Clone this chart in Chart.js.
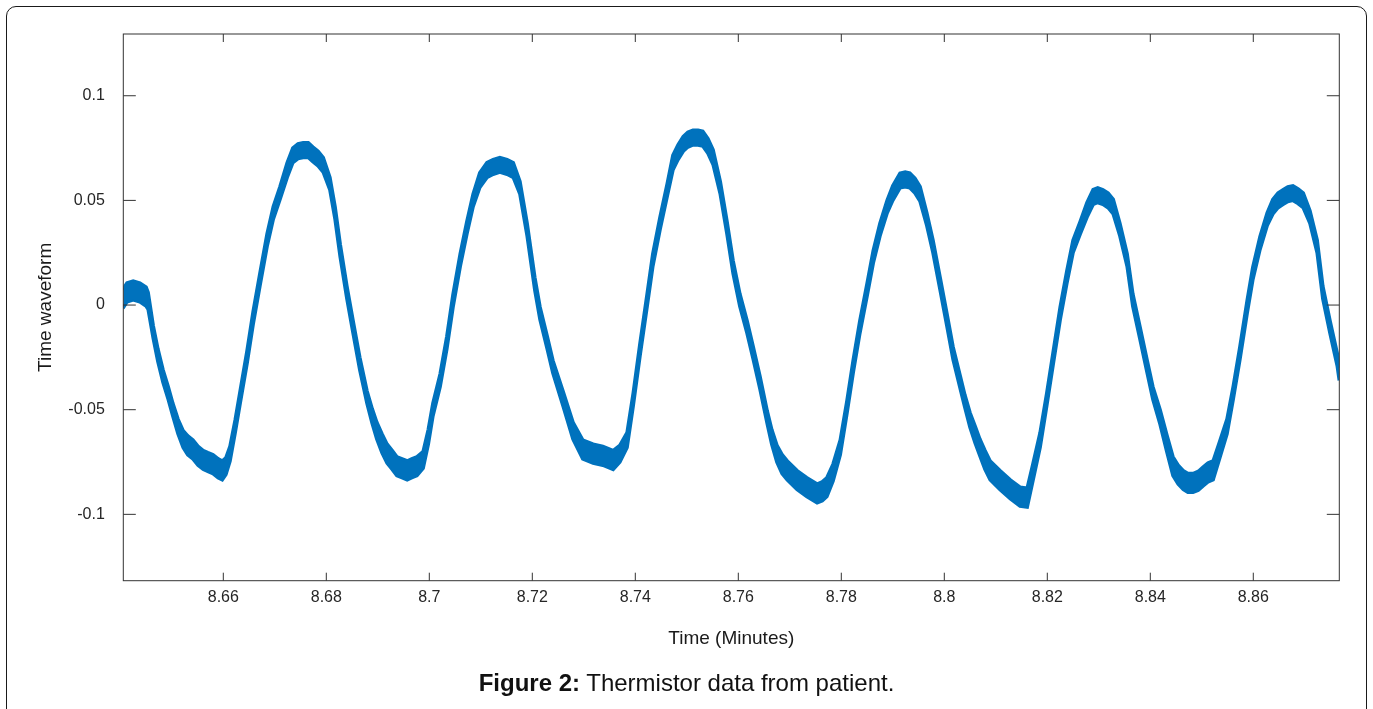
<!DOCTYPE html>
<html>
<head>
<meta charset="utf-8">
<script src="https://cdn.jsdelivr.net/npm/chart.js@4.4.1/dist/chart.umd.min.js"></script>
<style>
  html, body { margin: 0; padding: 0; background: #fff; width: 1373px; height: 709px; overflow: hidden; }
  #frame { position: absolute; left: 6px; top: 6px; width: 1361px; height: 760px; border: 1.5px solid #1a1a1a; border-radius: 10px; box-sizing: border-box; }
  #wrap { position: absolute; left: 0; top: 0; width: 1373px; height: 709px; }
  #caption { position: absolute; left: 0; top: 669px; width: 1373px; text-align: center; font-family: "Liberation Sans", Arial, sans-serif; font-size: 24px; line-height: 28px; color: #111; }
</style>
</head>
<body>
<div id="frame"></div>
<div id="wrap"><canvas id="c" width="1373" height="709"></canvas></div>
<div id="caption"><b>Figure 2:</b> Thermistor data from patient.</div>
<script>
// Time (minutes) of each sample
const times = [
8.6405, 8.6413, 8.6425, 8.6438, 8.6450, 8.6454, 8.6464, 8.6473, 8.6483, 8.6493,
8.6502, 8.6512, 8.6522, 8.6531, 8.6541, 8.6551, 8.6561, 8.6570, 8.6580, 8.6590,
8.6598, 8.6605, 8.6613, 8.6623, 8.6632, 8.6646, 8.6658, 8.6671, 8.6685, 8.6697,
8.6710, 8.6724, 8.6735, 8.6745, 8.6755, 8.6765, 8.6774, 8.6784, 8.6794, 8.6807,
8.6817, 8.6827, 8.6840, 8.6852, 8.6865, 8.6879, 8.6889, 8.6898, 8.6908, 8.6918,
8.6928, 8.6937, 8.6947, 8.6957, 8.6966, 8.6976, 8.6988, 8.6998, 8.7007, 8.7021,
8.7034, 8.7046, 8.7060, 8.7073, 8.7085, 8.7098, 8.7112, 8.7124, 8.7137, 8.7151,
8.7163, 8.7176, 8.7190, 8.7205, 8.7215, 8.7229, 8.7240, 8.7260, 8.7279, 8.7298,
8.7318, 8.7337, 8.7357, 8.7370, 8.7384, 8.7396, 8.7409, 8.7423, 8.7434, 8.7448,
8.7462, 8.7473, 8.7483, 8.7493, 8.7502, 8.7512, 8.7522, 8.7531, 8.7541, 8.7551,
8.7565, 8.7578, 8.7590, 8.7603, 8.7617, 8.7629, 8.7642, 8.7656, 8.7665, 8.7675,
8.7685, 8.7695, 8.7714, 8.7733, 8.7753, 8.7763, 8.7772, 8.7784, 8.7798, 8.7811,
8.7823, 8.7836, 8.7850, 8.7862, 8.7875, 8.7889, 8.7900, 8.7914, 8.7924, 8.7933,
8.7943, 8.7953, 8.7966, 8.7978, 8.7992, 8.8005, 8.8017, 8.8031, 8.8040, 8.8050,
8.8060, 8.8069, 8.8079, 8.8089, 8.8108, 8.8128, 8.8147, 8.8161, 8.8172, 8.8186,
8.8199, 8.8211, 8.8225, 8.8238, 8.8250, 8.8264, 8.8277, 8.8289, 8.8298, 8.8308,
8.8318, 8.8328, 8.8341, 8.8355, 8.8366, 8.8380, 8.8394, 8.8405, 8.8419, 8.8432,
8.8444, 8.8454, 8.8464, 8.8473, 8.8483, 8.8493, 8.8502, 8.8512, 8.8522, 8.8535,
8.8549, 8.8561, 8.8574, 8.8588, 8.8599, 8.8613, 8.8627, 8.8638, 8.8648, 8.8658,
8.8667, 8.8677, 8.8687, 8.8697, 8.8710, 8.8724, 8.8735, 8.8749, 8.8763, 8.8767
];

// Upper edge of the noisy waveform band
const upperEnv = [
0.0075, 0.0105, 0.0115, 0.0105, 0.0085, 0.006, -0.010, -0.021, -0.031, -0.039,
-0.047, -0.0545, -0.060, -0.0625, -0.0645, -0.0675, -0.0695, -0.0705, -0.0715, -0.0735,
-0.0745, -0.073, -0.0675, -0.055, -0.042, -0.022, -0.003, 0.015, 0.034, 0.047,
0.0565, 0.068, 0.075, 0.077, 0.0775, 0.0775, 0.0755, 0.0735, 0.0705, 0.061,
0.047, 0.029, 0.009, -0.0075, -0.025, -0.041, -0.0495, -0.056, -0.0615, -0.0665,
-0.0695, -0.0725, -0.0735, -0.0745, -0.0735, -0.0725, -0.070, -0.0595, -0.047, -0.033,
-0.015, 0.005, 0.0245, 0.040, 0.053, 0.0632, 0.068, 0.0695, 0.0705, 0.0695,
0.068, 0.059, 0.039, 0.013, -0.001, -0.015, -0.0265, -0.0415, -0.056, -0.0645,
-0.0665, -0.0675, -0.0695, -0.067, -0.061, -0.042, -0.0185, 0.0054, 0.0245, 0.042,
0.058, 0.0715, 0.0765, 0.0805, 0.0825, 0.0835, 0.0835, 0.083, 0.0795, 0.0742,
0.059, 0.040, 0.021, 0.0054, -0.0075, -0.020, -0.034, -0.0505, -0.0595, -0.067,
-0.0715, -0.0745, -0.0791, -0.0825, -0.0855, -0.0845, -0.0825, -0.076, -0.0645, -0.0457,
-0.0265, -0.0075, 0.0102, 0.026, 0.039, 0.050, 0.057, 0.063, 0.0635, 0.063,
0.0605, 0.0565, 0.044, 0.031, 0.013, -0.004, -0.020, -0.034, -0.043, -0.0515,
-0.058, -0.064, -0.0695, -0.0745, -0.0791, -0.0835, -0.087, -0.0875, -0.076, -0.061,
-0.042, -0.023, -0.001, 0.0164, 0.031, 0.040, 0.0489, 0.0551, 0.056, 0.0551,
0.0535, 0.0505, 0.039, 0.0245, 0.0054, -0.0104, -0.0265, -0.039, -0.050, -0.062,
-0.0725, -0.0765, -0.0791, -0.0805, -0.0805, -0.0795, -0.0775, -0.0755, -0.0745, -0.065,
-0.0545, -0.039, -0.020, 0.002, 0.018, 0.0326, 0.044, 0.0505, 0.0535, 0.0551,
0.0565, 0.057, 0.0555, 0.0535, 0.045, 0.031, 0.009, -0.0075, -0.023, -0.030
];

// Lower edge of the noisy waveform band
const lowerEnv = [
-0.0015, 0.0015, 0.0025, 0.0015, -0.0005, -0.002, -0.016, -0.027, -0.037, -0.045,
-0.053, -0.0615, -0.068, -0.0715, -0.0735, -0.0765, -0.0785, -0.0795, -0.0805, -0.0825,
-0.0835, -0.081, -0.0745, -0.061, -0.048, -0.028, -0.009, 0.009, 0.028, 0.041,
0.0505, 0.061, 0.068, 0.070, 0.0705, 0.0705, 0.0685, 0.0665, 0.0635, 0.055,
0.041, 0.023, 0.003, -0.0135, -0.031, -0.047, -0.0565, -0.064, -0.0705, -0.0755,
-0.0785, -0.0815, -0.0825, -0.0835, -0.0825, -0.0815, -0.078, -0.0665, -0.053, -0.039,
-0.021, -0.001, 0.0185, 0.034, 0.047, 0.0562, 0.061, 0.0625, 0.0635, 0.0625,
0.061, 0.053, 0.033, 0.007, -0.007, -0.021, -0.0325, -0.0485, -0.064, -0.0735,
-0.0755, -0.0765, -0.0785, -0.075, -0.068, -0.048, -0.0245, -0.0006, 0.0185, 0.036,
0.052, 0.0645, 0.0695, 0.0735, 0.0755, 0.0765, 0.0765, 0.076, 0.0725, 0.0672,
0.053, 0.034, 0.015, -0.0006, -0.0135, -0.026, -0.040, -0.0565, -0.0665, -0.075,
-0.0805, -0.0835, -0.0881, -0.0915, -0.0945, -0.0935, -0.0915, -0.084, -0.0715, -0.0517,
-0.0325, -0.0135, 0.0042, 0.020, 0.033, 0.044, 0.050, 0.056, 0.0565, 0.056,
0.0535, 0.0495, 0.038, 0.025, 0.007, -0.010, -0.026, -0.040, -0.049, -0.0585,
-0.066, -0.072, -0.0785, -0.0835, -0.0881, -0.0925, -0.096, -0.0965, -0.084, -0.068,
-0.048, -0.029, -0.007, 0.0104, 0.025, 0.034, 0.0419, 0.0481, 0.049, 0.0481,
0.0465, 0.0435, 0.033, 0.0185, -0.0006, -0.0164, -0.0325, -0.045, -0.057, -0.070,
-0.0815, -0.0855, -0.0881, -0.0895, -0.0895, -0.0885, -0.0865, -0.0845, -0.0835, -0.073,
-0.0615, -0.045, -0.026, -0.004, 0.012, 0.0266, 0.038, 0.0435, 0.0465, 0.0481,
0.0495, 0.050, 0.0485, 0.0465, 0.039, 0.025, 0.003, -0.0135, -0.029, -0.036
];

const xTickValues = [8.66, 8.68, 8.70, 8.72, 8.74, 8.76, 8.78, 8.80, 8.82, 8.84, 8.86];
const xTickLabels = ['8.66', '8.68', '8.7', '8.72', '8.74', '8.76', '8.78', '8.8', '8.82', '8.84', '8.86'];
const yTickValues = [-0.1, -0.05, 0, 0.05, 0.1];
const yTickLabels = ['-0.1', '-0.05', '0', '0.05', '0.1'];

const xTitle = 'Time (Minutes)';
const yTitle = 'Time waveform';

const LINE = '#0072BD';
const AXIS = '#333333';
const FONT = '"Liberation Sans", Arial, Helvetica, sans-serif';

const upperData = times.map((t, i) => ({ x: t, y: upperEnv[i] }));
const lowerData = times.map((t, i) => ({ x: t, y: lowerEnv[i] }));

const boxPlugin = {
  id: 'matlabBox',
  afterDraw(chart) {
    const { ctx, chartArea: a, scales } = chart;
    const xs = scales.x, ys = scales.y;
    ctx.save();
    ctx.strokeStyle = AXIS;
    ctx.lineWidth = 1;
    ctx.strokeRect(a.left, a.top, a.right - a.left, a.bottom - a.top);
    ctx.beginPath();
    xs.ticks.forEach(t => {
      const px = xs.getPixelForValue(t.value);
      ctx.moveTo(px, a.bottom); ctx.lineTo(px, a.bottom - 8);
      ctx.moveTo(px, a.top); ctx.lineTo(px, a.top + 8);
    });
    ys.ticks.forEach(t => {
      const py = ys.getPixelForValue(t.value);
      ctx.moveTo(a.left, py); ctx.lineTo(a.left + 12.5, py);
      ctx.moveTo(a.right, py); ctx.lineTo(a.right - 12.5, py);
    });
    ctx.stroke();
    ctx.restore();
  }
};

new Chart(document.getElementById('c'), {
  type: 'line',
  data: {
    datasets: [
      { label: 'upper', data: upperData, borderColor: LINE, backgroundColor: LINE, borderWidth: 3.5, pointRadius: 0, tension: 0, fill: '+1' },
      { label: 'lower', data: lowerData, borderColor: LINE, backgroundColor: LINE, borderWidth: 3.5, pointRadius: 0, tension: 0, fill: false }
    ]
  },
  options: {
    responsive: false,
    animation: false,
    events: [],
    layout: { padding: { left: 0, top: 34, right: 33.7, bottom: 0 } },
    plugins: { legend: { display: false }, tooltip: { enabled: false } },
    scales: {
      x: {
        type: 'linear',
        min: 8.64058,
        max: 8.8767,
        grid: { display: false, drawTicks: false, tickLength: 0 },
        border: { display: false },
        afterBuildTicks: (s) => { s.ticks = xTickValues.map(v => ({ value: v })); },
        afterFit: (s) => { s.height = 128.3; },
        ticks: {
          autoSkip: false, maxRotation: 0, padding: 7,
          color: '#262626', font: { family: FONT, size: 16 },
          callback: (v, i) => xTickLabels[i]
        },
        title: { display: true, text: xTitle, color: '#1a1a1a', font: { family: FONT, size: 19 }, padding: { top: 0, bottom: 58.6 } }
      },
      y: {
        type: 'linear',
        min: -0.1317,
        max: 0.1295,
        grid: { display: false, drawTicks: false, tickLength: 0 },
        border: { display: false },
        afterBuildTicks: (s) => { s.ticks = yTickValues.map(v => ({ value: v })); },
        afterFit: (s) => { s.width = 123.3; },
        ticks: {
          autoSkip: false, padding: 18.5,
          color: '#262626', font: { family: FONT, size: 16 },
          callback: (v, i) => yTickLabels[i]
        },
        title: { display: true, text: yTitle, color: '#1a1a1a', font: { family: FONT, size: 19 }, padding: { top: 34.1, bottom: 0 } }
      }
    }
  },
  plugins: [boxPlugin]
});
</script>
</body>
</html>
